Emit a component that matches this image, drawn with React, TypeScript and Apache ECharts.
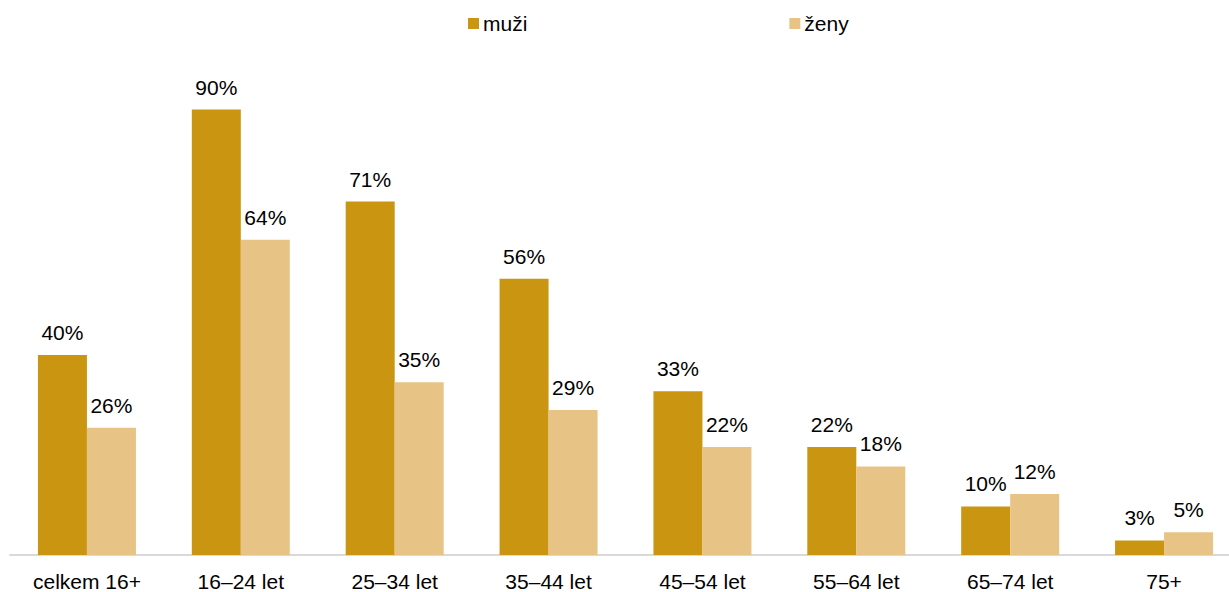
import React, { useEffect, useRef } from "react";
import * as echarts from "echarts";

const categories = [
  "celkem 16+",
  "16–24 let",
  "25–34 let",
  "35–44 let",
  "45–54 let",
  "55–64 let",
  "65–74 let",
  "75+",
];
const seriesNames = ["muži", "ženy"];
const muzi = [40.4, 90, 71.4, 55.8, 33.1, 21.8, 9.8, 2.95];
const zeny = [25.7, 63.7, 34.9, 29.3, 21.8, 17.9, 12.3, 4.6];

const FONT = "'Liberation Sans', Arial, sans-serif";

export default function App() {
  const ref = useRef<HTMLDivElement>(null);
  useEffect(() => {
    if (!ref.current) return;
    const chart = echarts.init(ref.current, undefined, { renderer: "svg" });
    const label = {
      show: true,
      position: "top" as const,
      distance: 12,
      color: "#000",
      fontSize: 21,
      fontFamily: FONT,
      formatter: (p: any) => Math.round(p.value) + "%",
    };
    chart.setOption({
      animation: false,
      textStyle: { fontFamily: FONT },
      legend: {
        data: seriesNames,
        left: 468,
        top: 13,
        padding: 0,
        itemWidth: 11,
        itemHeight: 11,
        itemGap: 262,
        icon: "rect",
        textStyle: { fontSize: 21, color: "#000", fontFamily: FONT, padding: [0, 0, 0, -1] },
      },
      grid: { left: 10, right: 9, top: 60, bottom: 35, containLabel: false },
      xAxis: {
        type: "category",
        data: categories,
        axisLine: { show: true, lineStyle: { color: "#D9D9D9", width: 2 } },
        axisTick: { show: false },
        axisLabel: { color: "#000", fontSize: 21, fontFamily: FONT, margin: 16, interval: 0 },
      },
      yAxis: {
        type: "value",
        min: 0,
        max: 100,
        show: false,
        splitLine: { show: false },
      },
      series: [
        {
          name: seriesNames[0],
          type: "bar",
          data: muzi,
          barWidth: 49,
          barGap: "0%",
          itemStyle: { color: "#CA9511" },
          label,
        },
        {
          name: seriesNames[1],
          type: "bar",
          data: zeny,
          barWidth: 49,
          barGap: "0%",
          itemStyle: { color: "#E7C486" },
          label,
        },
      ],
    });
    return () => chart.dispose();
  }, []);
  return (
    <div
      style={{
        position: "absolute",
        left: 0,
        top: 0,
        width: 1229,
        height: 592,
        overflow: "hidden",
        background: "#fff",
      }}
    >
      <div ref={ref} style={{ width: 1250, height: 592 }} />
    </div>
  );
}
